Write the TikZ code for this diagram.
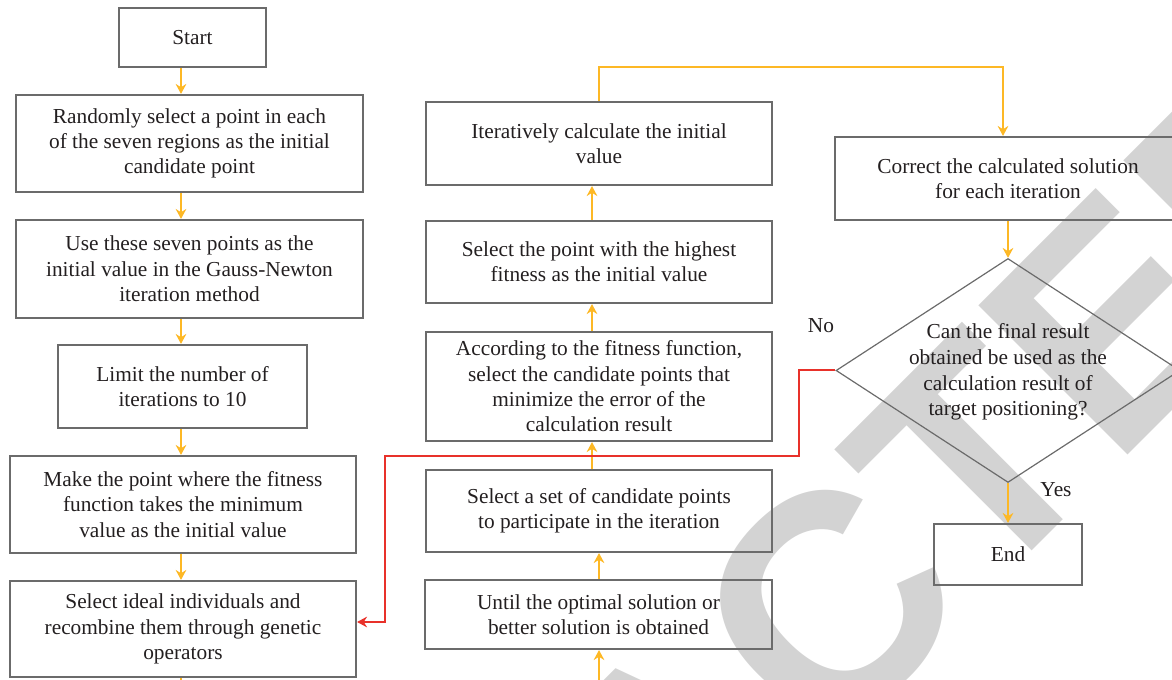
\documentclass[tikz,border=0pt]{standalone}
\usepackage{fontspec}
\setmainfont{Liberation Serif}
\newfontfamily\wmfont{Liberation Sans}
\usepackage{xcolor}
\usetikzlibrary{shapes.geometric,arrows.meta,calc}

\definecolor{flowyellow}{HTML}{FDB825}
\definecolor{backred}{HTML}{E8312A}
\definecolor{boxgray}{HTML}{6B6B6B}
\definecolor{inkgray}{HTML}{231F20}
\definecolor{wmgray}{HTML}{D3D3D3}

\begin{document}
\begin{tikzpicture}[x=0.75pt,y=-0.75pt,
    box/.style={rectangle, draw=boxgray, line width=1.6pt, align=center, text=inkgray,
      minimum width=259.5pt, inner sep=0pt, font=\fontsize{16}{19}\selectfont},
    decision/.style={diamond, draw=boxgray, line width=0.9pt, minimum width=258pt,
      minimum height=168pt, inner sep=0pt},
    txt/.style={align=center, text=inkgray, inner sep=0pt, font=\fontsize{16}{19.2}\selectfont},
    flow/.style={draw=flowyellow, line width=1.6pt, -{Stealth[length=7.5pt,width=8pt,inset=2.5pt]}},
    back/.style={draw=backred, line width=1.5pt, -{Stealth[length=7.5pt,width=8pt,inset=2.5pt]}},
    watermark/.style={rotate=45, text=wmgray, inner sep=0pt,
      font=\wmfont\bfseries\fontsize{230}{230}\selectfont}]

  \useasboundingbox (0,0) rectangle (1172,680);

  % watermark, behind everything
  \node[watermark] (wm) at (672,762) {RETRACTED};

  % lanes for the connectors
  \coordinate (lanea) at (181,0);
  \coordinate (laneb) at (592,0);
  \coordinate (lanec) at (599,0);
  \coordinate (laned) at (1003,0);
  \coordinate (exitl) at (181,700);
  \coordinate (entrym) at (599,700);

  % left column
  \node[box, minimum width=110.25pt, minimum height=44.25pt] (start) at (192.5,37.5) {Start};
  \node[box, minimum width=260.25pt, minimum height=72.75pt] (rand) at (189.5,143.5) {Randomly select a point in each\\of the seven regions as the initial\\candidate point};
  \node[box, minimum width=260.25pt, minimum height=73.5pt] (use) at (189.5,269) {Use these seven points as the\\initial value in the Gauss-Newton\\iteration method};
  \node[box, minimum width=186.75pt, minimum height=62.25pt] (limit) at (182.5,386.5) {Limit the number of\\iterations to 10};
  \node[box, minimum height=72.75pt] (make) at (183,504.5) {Make the point where the fitness\\function takes the minimum\\value as the initial value};
  \node[box, minimum height=72pt] (sel) at (183,629) {Select ideal individuals and\\recombine them through genetic\\operators};

  % middle column
  \node[box, minimum height=62.25pt] (iter) at (599,143.5) {Iteratively calculate the initial\\value};
  \node[box, minimum height=61.5pt] (high) at (599,262) {Select the point with the highest\\fitness as the initial value};
  \node[box, minimum height=81.75pt] (accord) at (599,386.5) {According to the fitness function,\\select the candidate points that\\minimize the error of the\\calculation result};
  \node[box, minimum height=61.5pt] (cand) at (599,511) {Select a set of candidate points\\to participate in the iteration};
  \node[box, minimum width=260.25pt, minimum height=51.75pt] (until) at (598.5,614.5) {Until the optimal solution or\\better solution is obtained};

  % right column
  \node[box, minimum height=62.25pt] (correct) at (1008,178.5) {Correct the calculated solution\\for each iteration};
  \node[decision] (dec) at (1008,370.5) {};
  \node[txt] (decq) at (1008,372) {Can the final result\\obtained be used as the\\calculation result of\\target positioning?};
  \node[box, minimum width=111pt, minimum height=45.75pt] (end) at (1008,554.5) {End};
  \node[txt] (no) at (821,326) {No};
  \node[txt] (yes) at (1056,490) {Yes};

  % connectors, left column
  \draw[flow] (start.south -| lanea) -- (rand.north -| lanea);
  \draw[flow] (rand.south -| lanea) -- (use.north -| lanea);
  \draw[flow] (use.south -| lanea) -- (limit.north -| lanea);
  \draw[flow] (limit.south -| lanea) -- (make.north -| lanea);
  \draw[flow] (make.south -| lanea) -- (sel.north -| lanea);
  \draw[flow, -] (sel.south -| lanea) -- (exitl);

  % connectors, middle column
  \draw[flow] (entrym) -- (until.south -| lanec);
  \draw[flow] (until.north -| lanec) -- (cand.south -| lanec);
  \draw[flow] (cand.north -| laneb) -- (accord.south -| laneb);
  \draw[flow] (accord.north -| laneb) -- (high.south -| laneb);
  \draw[flow] (high.north -| laneb) -- (iter.south -| laneb);
  \draw[flow] (iter.north -| lanec) -- ++(0,-34) -| (correct.north -| laned);

  % connectors, right column
  \draw[flow] (correct.south -| dec.north) -- (dec.north);
  \draw[flow] (dec.south) -- (end.north);
  \draw[back] (dec.west) -- ++(-36,0) |- (385,456) |- ($(sel.east)+(0,-7)$);
\end{tikzpicture}
\end{document}
